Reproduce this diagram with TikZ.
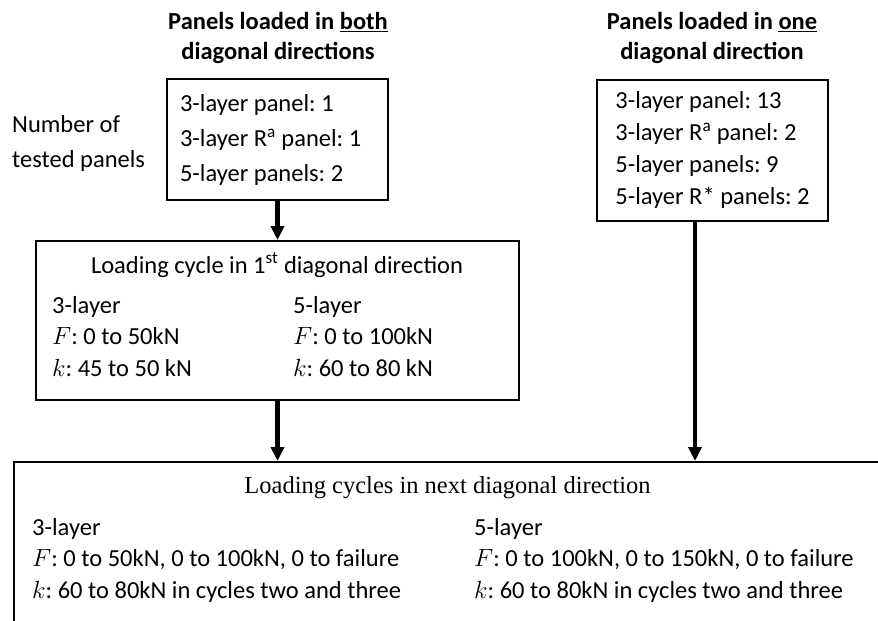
\documentclass[tikz,border=0pt]{standalone}
\usepackage{fontspec}
\setmainfont{Carlito}
\newfontfamily\tnrfont{Liberation Serif}
\usetikzlibrary{arrows.meta,positioning}
\newcommand{\fsz}[1]{\fontsize{24.5pt}{#1}\selectfont\frenchspacing}

\begin{document}
\begin{tikzpicture}[
  x=1pt, y=-1pt,
  box/.style={draw, line width=2pt, inner sep=0pt},
  txt/.style={inner sep=0pt, font=\fsz{30pt}},
  col/.style={inner sep=0pt, align=left, anchor=north west, font=\fsz{31.5pt}},
  hd/.style={inner sep=0pt, align=center, font=\bfseries\fsz{30pt}},
  flow/.style={-{Triangle[width=13pt,length=14pt]}, line width=4.5pt}
]
\useasboundingbox (0,0) rectangle (878,621);
% headings over the two groups
\node[hd] (bothhd) at (278,38) {Panels loaded in \underline{both}\\diagonal directions};
\node[hd] (onehd) at (712,38) {Panels loaded in \underline{one}\\diagonal direction};
\node[txt, align=left, anchor=west, font=\fsz{35pt}] (count) at (12,143.5) {Number of\\tested panels};
% panel counts
\node[box, text width=195pt, minimum height=121pt, inner xsep=13pt, align=flush left, font=\fsz{35pt}] (both) at (277.5,139.5)
   {3-layer panel: 1\\3-layer R\textsuperscript{a} panel: 1\\5-layer panels: 2};
\node[box, minimum width=231pt, minimum height=141pt, align=left, font=\fsz{32pt}] (oneway) at (712.5,150)
   {3-layer panel: 13\\3-layer R\textsuperscript{a} panel: 2\\5-layer panels: 9\\5-layer R* panels: 2};
% first loading cycle
\node[box, minimum width=483pt, minimum height=159pt] (first) at (277.5,320.5) {};
\node[txt, anchor=base] (firsthd) at (277,273) {Loading cycle in 1\textsuperscript{st} diagonal direction};
\node[col] (first3) at (52,296) {3-layer\\$F$: 0 to 50kN\\$k$: 45 to 50 kN};
\node[col] (first5) at (293,296) {5-layer\\$F$: 0 to 100kN\\$k$: 60 to 80 kN};
% next loading cycles
\node[box, minimum width=912pt, minimum height=160pt] (next) at (470,542) {};
\node[txt, anchor=base, font=\tnrfont\fsz{30pt}] (nexthd) at (447.5,493) {Loading cycles in next diagonal direction};
\node[col] (next3) at (32,518) {3-layer\\$F$: 0 to 50kN, 0 to 100kN, 0 to failure\\$k$: 60 to 80kN in cycles two and three};
\node[col] (next5) at (474,518) {5-layer\\$F$: 0 to 100kN, 0 to 150kN, 0 to failure\\$k$: 60 to 80kN in cycles two and three};
% flow
\draw[flow] (both) -- (first);
\draw[flow] (first.south) -- (first.south |- next.north);
\draw[flow] ([xshift=-17.5pt]oneway.south) -- ([xshift=-17.5pt]oneway.south |- next.north);
\end{tikzpicture}
\end{document}
